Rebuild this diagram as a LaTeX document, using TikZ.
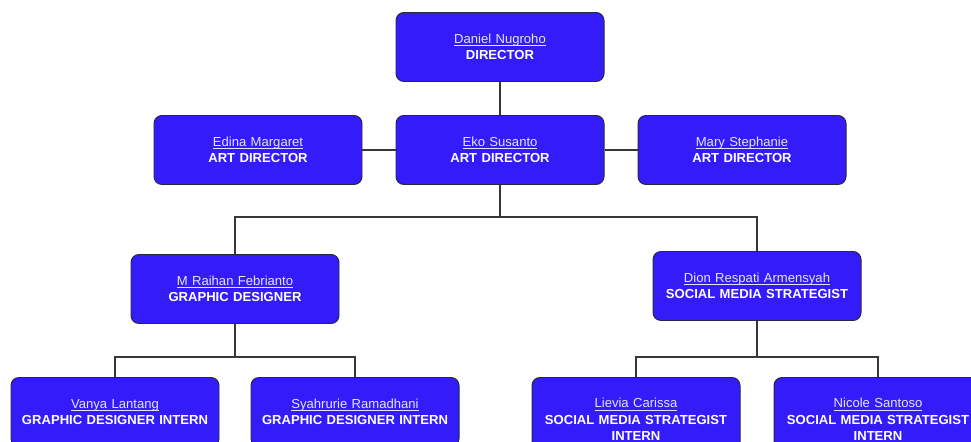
\documentclass[tikz,border=0pt]{standalone}
\usepackage{fontspec}
\setmainfont{Liberation Sans}
\usetikzlibrary{positioning,calc}
\definecolor{orgblue}{RGB}{52,28,250}
\definecolor{orgedge}{RGB}{40,40,60}
\definecolor{orgname}{RGB}{228,228,255}
\definecolor{orgline}{RGB}{55,55,55}
\newsavebox{\namebox}
\newcommand{\nameline}[1]{\sbox{\namebox}{#1}\rlap{\smash{\rule[-1.8pt]{\wd\namebox}{0.45pt}}}\usebox{\namebox}}
\newcommand{\person}[2]{{\color{orgname}\nameline{#1}}\\\textbf{#2}}

\begin{document}
\begin{tikzpicture}[x=0.025cm, y=-0.025cm,
box/.style={draw=orgedge, fill=orgblue, rounded corners=8*0.025cm, line width=0.7pt,
minimum width=208*0.025cm, minimum height=69*0.025cm, text width=200*0.025cm,
align=center, text=white, font=\fontsize{9.3}{11.8}\selectfont, anchor=north, inner sep=0pt},
tall/.style={box, minimum height=84*0.025cm},
link/.style={draw=orgline, line width=1pt}
]
\useasboundingbox (0,0) rectangle (971,441);

\begin{scope}
\clip (0,0) rectangle (971,441);

% top levels
\node[box] (dir)   at (500,12)  {\person{Daniel Nugroho}{DIRECTOR}};
\node[box] (eko)   at (500,115) {\person{Eko Susanto}{ART DIRECTOR}};
\node[box] (edina) at (258,115) {\person{Edina Margaret}{ART DIRECTOR}};
\node[box] (mary)  at (742,115) {\person{Mary Stephanie}{ART DIRECTOR}};

% designers and strategists
\node[box] (raihan) at (235,254) {\person{M Raihan Febrianto}{GRAPHIC DESIGNER}};
\node[box] (dion)   at (757,251) {\person{Dion Respati Armensyah}{SOCIAL MEDIA STRATEGIST}};

% interns
\node[box]  (vanya)  at (115,377) {\person{Vanya Lantang}{GRAPHIC DESIGNER INTERN}};
\node[box]  (syah)   at (355,377) {\person{Syahrurie Ramadhani}{GRAPHIC DESIGNER INTERN}};
\node[tall] (lievia) at (636,377) {\person{Lievia Carissa}{SOCIAL MEDIA STRATEGIST\\INTERN}};
\node[tall] (nicole) at (878,377) {\person{Nicole Santoso}{SOCIAL MEDIA STRATEGIST\\INTERN}};

\coordinate (busA) at (500,217);
\coordinate (busB) at (235,357);
\coordinate (busC) at (757,357);

\draw[link] (dir.south) -- (eko.north);
\draw[link] (edina.east) -- (eko.west);
\draw[link] (eko.east) -- (mary.west);

\draw[link] (eko.south) -- (busA) -| (raihan.north);
\draw[link] (busA) -| (dion.north);

\draw[link] (raihan.south) -- (busB) -| (vanya.north);
\draw[link] (busB) -| (syah.north);
\draw[link] (dion.south) -- (busC) -| (lievia.north);
\draw[link] (busC) -| (nicole.north);
\end{scope}

\end{tikzpicture}
\end{document}
